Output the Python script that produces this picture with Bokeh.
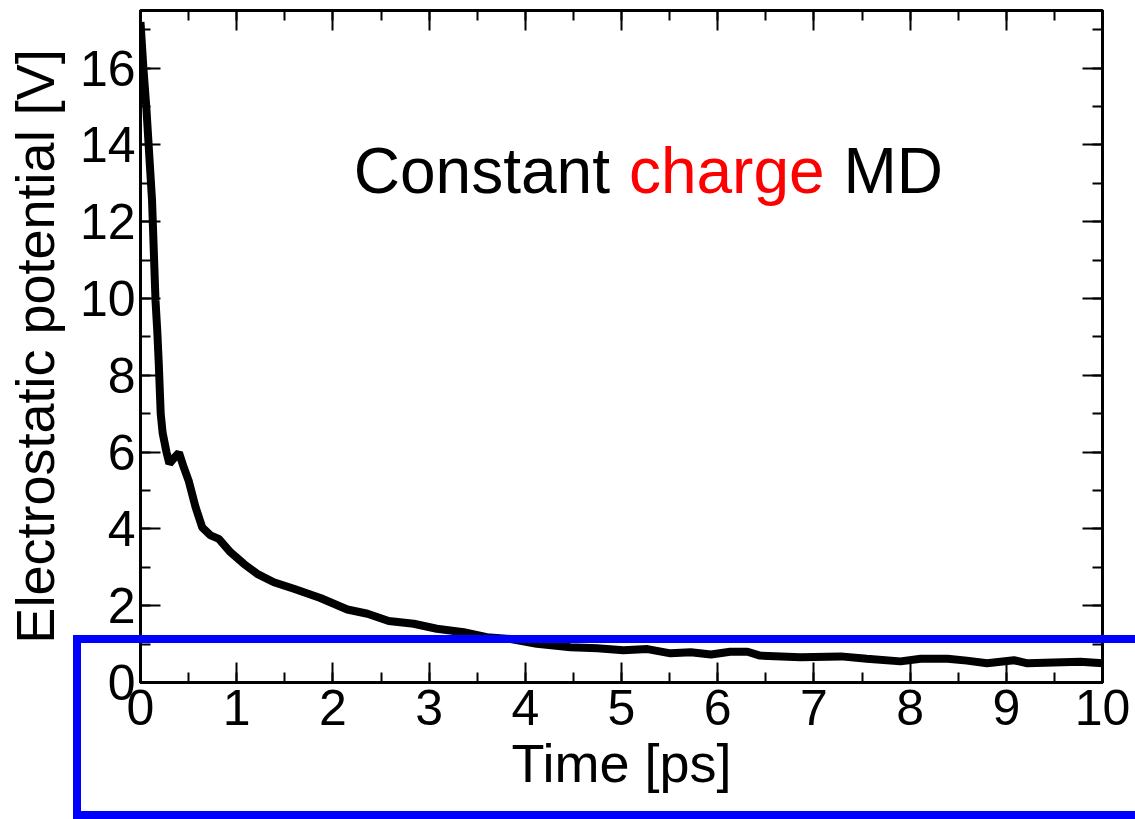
from bokeh.plotting import figure
from bokeh.models import Range1d, LinearAxis, SingleIntervalTicker, Label, InlineStyleSheet
from bokeh.embed import file_html
from bokeh.resources import INLINE

# ---- data ----
time_ps = [0.0, 0.03, 0.06, 0.12, 0.156, 0.174, 0.19, 0.21, 0.23, 0.27, 0.30, 0.35,
           0.40, 0.45, 0.50, 0.572, 0.641, 0.728, 0.814, 0.936, 1.074, 1.213, 1.386,
           1.594, 1.87, 2.15, 2.36, 2.58, 2.84, 3.08, 3.36, 3.60, 3.85, 4.12, 4.47,
           4.75, 5.02, 5.27, 5.51, 5.72, 5.93, 6.13, 6.31, 6.44, 6.86, 7.28, 7.55,
           7.90, 8.11, 8.39, 8.59, 8.80, 9.08, 9.22, 9.49, 9.77, 10.0]
potential_v = [17.2, 16.0, 15.0, 12.55, 9.95, 9.17, 8.3, 7.0, 6.5, 6.0, 5.7, 5.85,
               5.98, 5.6, 5.26, 4.57, 4.04, 3.83, 3.74, 3.39, 3.09, 2.83, 2.61,
               2.44, 2.2, 1.9, 1.79, 1.6, 1.53, 1.40, 1.31, 1.18, 1.13, 1.01, 0.92,
               0.89, 0.84, 0.87, 0.76, 0.79, 0.73, 0.80, 0.80, 0.70, 0.66, 0.68, 0.62,
               0.55, 0.62, 0.62, 0.57, 0.50, 0.58, 0.50, 0.52, 0.54, 0.50]

x_limits = [0, 10]
y_limits = [0, 17.5]
x_tick_step = 1
y_tick_step = 2
x_label = "Time [ps]"
y_label = "Electrostatic potential [V]"
title_parts = ["Constant ", "charge", "MD"]
title_colors = ["black", "red", "black"]

FONT = "Liberation Sans"

# blue highlight frame (a page overlay, drawn over the chart)
highlight_css = """
:host::after {
  content: "";
  position: absolute;
  left: 73px; top: 635px;
  width: 1062px; height: 184px;
  box-sizing: border-box;
  border: 8px solid #0000ff;
  border-right: 0;
  pointer-events: none;
  z-index: 10;
}
"""

p = figure(width=1135, height=819, output_backend="svg", toolbar_location=None,
           x_range=Range1d(*x_limits), y_range=Range1d(*y_limits),
           x_axis_type=None, y_axis_type=None,
           min_border_left=140, min_border_right=33, min_border_top=10, min_border_bottom=137,
           stylesheets=[InlineStyleSheet(css=highlight_css)])
p.outline_line_color = "black"
p.outline_line_width = 3
p.background_fill_color = "white"
p.border_fill_color = "white"


def style(ax, show_labels):
    ax.axis_line_width = 3
    ax.axis_line_color = "black"
    ax.major_tick_in = 20
    ax.major_tick_out = 0
    ax.minor_tick_in = 10
    ax.minor_tick_out = 0
    ax.major_tick_line_width = 2
    ax.minor_tick_line_width = 2
    ax.major_tick_line_color = "black"
    ax.minor_tick_line_color = "black"
    ax.major_label_text_font = FONT
    if show_labels:
        ax.major_label_text_font_size = "50px"
        ax.major_label_text_color = "black"
    else:
        ax.major_label_text_color = None
        ax.major_label_text_font_size = "1px"
        ax.major_label_standoff = 0


xt = SingleIntervalTicker(interval=x_tick_step, num_minor_ticks=2)
yt = SingleIntervalTicker(interval=y_tick_step, num_minor_ticks=2)

bottom = LinearAxis(ticker=xt, axis_label=x_label)
style(bottom, True)
bottom.major_label_standoff = 7
bottom.axis_label_standoff = 5
bottom.axis_label_text_font = FONT
bottom.axis_label_text_font_size = "54px"
bottom.axis_label_text_font_style = "normal"
bottom.axis_label_text_color = "black"
p.add_layout(bottom, "below")

left = LinearAxis(ticker=yt, axis_label=y_label)
style(left, True)
left.major_label_standoff = 5
left.axis_label_standoff = 12
left.axis_label_text_font = FONT
left.axis_label_text_font_size = "54px"
left.axis_label_text_font_style = "normal"
left.axis_label_text_color = "black"
p.add_layout(left, "left")

top = LinearAxis(ticker=SingleIntervalTicker(interval=x_tick_step, num_minor_ticks=2))
style(top, False)
p.add_layout(top, "above")

right = LinearAxis(ticker=SingleIntervalTicker(interval=y_tick_step, num_minor_ticks=2))
style(right, False)
p.add_layout(right, "right")

p.line(time_ps, potential_v, line_color="black", line_width=8)

# annotation text
title_x = [2.217, 5.077, 7.307]
for txt, col, tx in zip(title_parts, title_colors, title_x):
    p.add_layout(Label(x=tx, y=13.31, text=txt, text_color=col, text_font=FONT,
                       text_font_size="64px", text_baseline="alphabetic", text_align="left"))

open("out.html", "w").write(file_html(p, INLINE))
